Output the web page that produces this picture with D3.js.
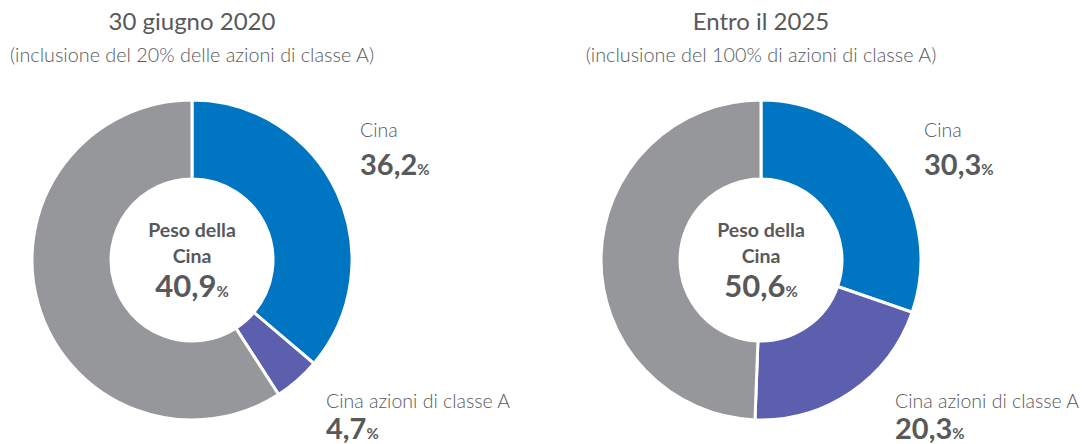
<!DOCTYPE html>
<html>
<head>
<meta charset="utf-8">
<script src="https://cdn.jsdelivr.net/npm/d3@7"></script>
<style>
body { margin: 0; background: #fff; }
text { font-family: "Lato", "Noto Sans", sans-serif; fill: #58595b; }
</style>
</head>
<body>
<div id="chart"></div>
<script>
// chart data
const titles = ["30 giugno 2020", "Entro il 2025"];
const subtitles = ["(inclusione del 20% delle azioni di classe A)", "(inclusione del 100% di azioni di classe A)"];
const categories = ["Cina", "Cina azioni di classe A", "Altro"];
const values2020 = [36.2, 4.7, 59.1];
const values2025 = [30.3, 20.3, 49.4];
const totals = ["40,9", "50,6"];
const colors = ["#0075c2", "#5b5fae", "#96979b"];

const width = 1082, height = 444;
const outerR = 160, innerR = 81;
const centers = [{x: 192, y: 260}, {x: 761, y: 260}];

const svg = d3.select("#chart")
.append("svg")
.attr("width", width)
.attr("height", height);

const pie = d3.pie().sort(null).value(d => d);
const arc = d3.arc().innerRadius(innerR).outerRadius(outerR);

const fmt = v => d3.format(".1f")(v).replace(".", ",");

[values2020, values2025].forEach(function(vals, i) {
const c = centers[i];

// titles
svg.append("text")
.attr("x", c.x)
.attr("y", 30)
.attr("text-anchor", "middle")
.attr("font-size", 24)
.text(titles[i]);
svg.append("text")
.attr("x", c.x)
.attr("y", 62)
.attr("text-anchor", "middle")
.attr("font-size", 19.8)
.attr("font-weight", 300)
.text(subtitles[i]);

const g = svg.append("g")
.attr("transform", `translate(${c.x},${c.y})`);

g.selectAll("path")
.data(pie(vals))
.join("path")
.attr("d", arc)
.attr("fill", (d, j) => colors[j])
.attr("stroke", "#fff")
.attr("stroke-width", 3);

// center label
g.append("text").attr("y", -23).attr("text-anchor", "middle")
.attr("font-size", 19.5).attr("font-weight", 700).text("Peso della");
g.append("text").attr("y", 3).attr("text-anchor", "middle")
.attr("font-size", 19.5).attr("font-weight", 700).text("Cina");
const t = g.append("text").attr("y", 37).attr("text-anchor", "middle")
.attr("font-size", 31).attr("font-weight", 700);
t.append("tspan").text(totals[i]);
t.append("tspan").attr("font-size", 15).text("%");

// outside labels: first slice upper right, second slice lower right
const labelPos = [
{x: c.x + (i === 0 ? 168 : 163), y1: 137, y2: 175},
{x: c.x + 134, y1: 408, y2: 439}
];
[0, 1].forEach(function(j) {
const p = labelPos[j];
svg.append("text")
.attr("x", p.x).attr("y", p.y1)
.attr("font-size", 19.5).attr("font-weight", 300)
.text(categories[j]);
const v = svg.append("text")
.attr("x", p.x).attr("y", p.y2)
.attr("font-size", 29).attr("font-weight", 700);
v.append("tspan").text(fmt(vals[j]));
v.append("tspan").attr("font-size", 15).text("%");
});
});
</script>
</body>
</html>
